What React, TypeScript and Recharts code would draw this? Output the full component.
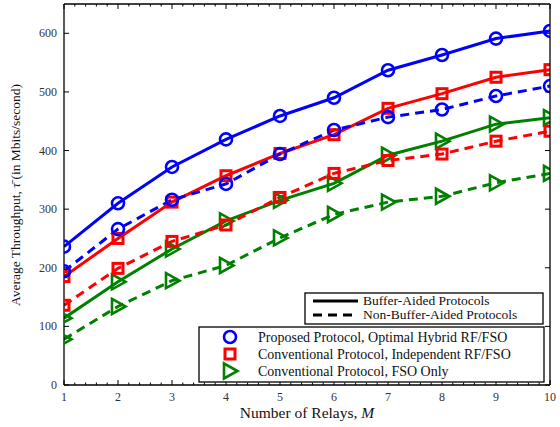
import React from 'react';
import { LineChart, Line, XAxis, YAxis } from 'recharts';

const relays = [1, 2, 3, 4, 5, 6, 7, 8, 9, 10];
const proposedBuffer = [236, 310, 372, 419, 459, 490, 537, 563, 591, 604];
const proposedNoBuffer = [194, 266, 316, 343, 394, 435, 457, 470, 493, 510];
const conventionalBuffer = [185, 250, 312, 357, 395, 427, 472, 497, 525, 538];
const conventionalNoBuffer = [136, 199, 245, 273, 320, 361, 383, 394, 416, 433];
const fsoBuffer = [114, 176, 232, 280, 315, 344, 392, 416, 445, 456];
const fsoNoBuffer = [78, 134, 178, 204, 251, 291, 312, 322, 345, 361];

const yTicks = [0, 100, 200, 300, 400, 500, 600];
const yMax = 650;
const xMin = 1;
const xMax = 10;
const xMajorTicks = relays;
const minorPerMajor = 5;

const xTicks: number[] = [];
for (let i = 0; i < xMajorTicks.length - 1; i++) {
  for (let k = 0; k < minorPerMajor; k++) {
    const a = xMajorTicks[i];
    const b = xMajorTicks[i + 1];
    xTicks.push(Math.round((a + ((b - a) * k) / minorPerMajor) * 100) / 100);
  }
}
xTicks.push(xMajorTicks[xMajorTicks.length - 1]);

const data = relays.map((m, i) => ({
  m,
  pB: proposedBuffer[i],
  pN: proposedNoBuffer[i],
  cB: conventionalBuffer[i],
  cN: conventionalNoBuffer[i],
  fB: fsoBuffer[i],
  fN: fsoNoBuffer[i],
}));

// layout
const W = 560;
const H = 427;
const Y_AXIS_W = 64;
const X_AXIS_H = 42;
const TOP_AXIS_H = 4;
const RIGHT_AXIS_W = 10;
const PLOT_L = Y_AXIS_W;
const PLOT_R = W - RIGHT_AXIS_W;
const PLOT_T = TOP_AXIS_H;
const PLOT_B = H - X_AXIS_H;

const BLUE = '#0000ff';
const RED = '#ff0000';
const GREEN = '#008000';
const FONT = '"Liberation Serif", "DejaVu Serif", serif';
const DASH = '9 6';

const CircleMark = ({ cx, cy }: any) => (
  <circle cx={cx} cy={cy} r={6} fill="none" stroke={BLUE} strokeWidth={2.6} />
);
const SquareMark = ({ cx, cy }: any) => (
  <rect x={cx - 5} y={cy - 5} width={10} height={10} fill="none" stroke={RED} strokeWidth={3} />
);
const TriMark = ({ cx, cy }: any) => (
  <polygon
    points={`${cx - 6},${cy - 7.5} ${cx + 7.5},${cy} ${cx - 6},${cy + 7.5}`}
    fill="none"
    stroke={GREEN}
    strokeWidth={2.6}
    strokeLinejoin="miter"
  />
);

const dotFn = (Comp: any) => (props: any) => (
  <Comp key={`d-${props.index}`} cx={props.cx} cy={props.cy} />
);

const isMajor = (v: number) => Math.abs(v - Math.round(v)) < 1e-6;

const BottomTick = (p: any) => {
  const v = p.payload.value;
  const major = isMajor(v);
  return (
    <g>
      <line x1={p.x} y1={p.y} x2={p.x} y2={p.y - (major ? 5 : 2.5)} stroke="#000" strokeWidth={1} />
      {major && (
        <text x={p.x} y={p.y + 16} textAnchor="middle" fontSize={12} fontFamily={FONT} fill="#333">
          {v}
        </text>
      )}
    </g>
  );
};

const LeftTick = (p: any) => (
  <g>
    <line x1={p.x} y1={p.y} x2={p.x + 5} y2={p.y} stroke="#000" strokeWidth={1} />
    <text x={p.x - 7} y={p.y + 4} textAnchor="end" fontSize={12} fontFamily={FONT} fill="#333">
      {p.payload.value}
    </text>
  </g>
);

const axisLine = { stroke: '#000', strokeWidth: 1.3 };

const topX = (v: number) => PLOT_L + ((v - xMin) / (xMax - xMin)) * (PLOT_R - PLOT_L);
const rightY = (v: number) => PLOT_B - (v / yMax) * (PLOT_B - PLOT_T);

export default function App() {
  return (
    <div style={{ position: 'absolute', left: 0, top: 0, width: W, height: H, background: '#fff' }}>
      <LineChart
        width={W}
        height={H}
        data={data}
        margin={{ top: TOP_AXIS_H, right: RIGHT_AXIS_W, left: 0, bottom: 0 }}
      >
        <XAxis
          dataKey="m"
          type="number"
          domain={[xMin, xMax]}
          ticks={xTicks}
          interval={0}
          height={X_AXIS_H}
          tickSize={0}
          tickMargin={0}
          tickLine={false}
          axisLine={axisLine}
          tick={BottomTick}
          allowDataOverflow
        />
        <YAxis
          type="number"
          domain={[0, yMax]}
          ticks={yTicks}
          interval={0}
          width={Y_AXIS_W}
          tickSize={0}
          tickMargin={0}
          tickLine={false}
          axisLine={axisLine}
          tick={LeftTick}
          allowDataOverflow
        />
        <Line dataKey="fB" stroke={GREEN} strokeWidth={3} dot={dotFn(TriMark)} isAnimationActive={false} />
        <Line dataKey="fN" stroke={GREEN} strokeWidth={3} strokeDasharray={DASH} dot={dotFn(TriMark)} isAnimationActive={false} />
        <Line dataKey="cB" stroke={RED} strokeWidth={3} dot={dotFn(SquareMark)} isAnimationActive={false} />
        <Line dataKey="cN" stroke={RED} strokeWidth={3} strokeDasharray={DASH} dot={dotFn(SquareMark)} isAnimationActive={false} />
        <Line dataKey="pB" stroke={BLUE} strokeWidth={3} dot={dotFn(CircleMark)} isAnimationActive={false} />
        <Line dataKey="pN" stroke={BLUE} strokeWidth={3} strokeDasharray={DASH} dot={dotFn(CircleMark)} isAnimationActive={false} />
      </LineChart>
      <svg
        width={W}
        height={H}
        style={{ position: 'absolute', left: 0, top: 0, pointerEvents: 'none' }}
        fontFamily={FONT}
      >
        {/* top and right frame with inward ticks */}
        <line x1={PLOT_L} y1={PLOT_T} x2={PLOT_R} y2={PLOT_T} stroke="#000" strokeWidth={1.3} />
        <line x1={PLOT_R} y1={PLOT_T} x2={PLOT_R} y2={PLOT_B} stroke="#000" strokeWidth={1.3} />
        {xTicks.map((v) => (
          <line
            key={`tt-${v}`}
            x1={topX(v)}
            y1={PLOT_T}
            x2={topX(v)}
            y2={PLOT_T + (isMajor(v) ? 5 : 2.5)}
            stroke="#000"
            strokeWidth={1}
          />
        ))}
        {yTicks.map((v) => (
          <line
            key={`rt-${v}`}
            x1={PLOT_R}
            y1={rightY(v)}
            x2={PLOT_R - 5}
            y2={rightY(v)}
            stroke="#000"
            strokeWidth={1}
          />
        ))}

        <text x={307} y={418} textAnchor="middle" fontSize={15.5} fill="#111">
          Number of Relays, <tspan fontStyle="italic">M</tspan>
        </text>
        <text
          transform="translate(20,195) rotate(-90)"
          textAnchor="middle"
          fontSize={13.5}
          fill="#111"
        >
          Average Throughput, <tspan fontStyle="italic">τ̄</tspan> (in Mbits/second)
        </text>

        <rect x={305} y={293} width={238} height={31} fill="#fff" stroke="#000" strokeWidth={1.3} />
        <line x1={313} y1={301} x2={358} y2={301} stroke="#000" strokeWidth={3} />
        <line x1={313} y1={315} x2={358} y2={315} stroke="#000" strokeWidth={3} strokeDasharray={DASH} />
        <text x={363} y={305} fontSize={13.5} fill="#111">Buffer-Aided Protocols</text>
        <text x={363} y={319} fontSize={13.5} fill="#111">Non-Buffer-Aided Protocols</text>

        <rect x={199} y={327} width={345} height={55} fill="#fff" stroke="#000" strokeWidth={1.3} />
        <CircleMark cx={230} cy={337} />
        <SquareMark cx={230} cy={354} />
        <TriMark cx={230} cy={371} />
        <text x={258} y={342} fontSize={14} fill="#111">Proposed Protocol, Optimal Hybrid RF/FSO</text>
        <text x={258} y={359} fontSize={14} fill="#111">Conventional Protocol, Independent RF/FSO</text>
        <text x={258} y={376} fontSize={14} fill="#111">Conventional Protocol, FSO Only</text>
      </svg>
    </div>
  );
}
